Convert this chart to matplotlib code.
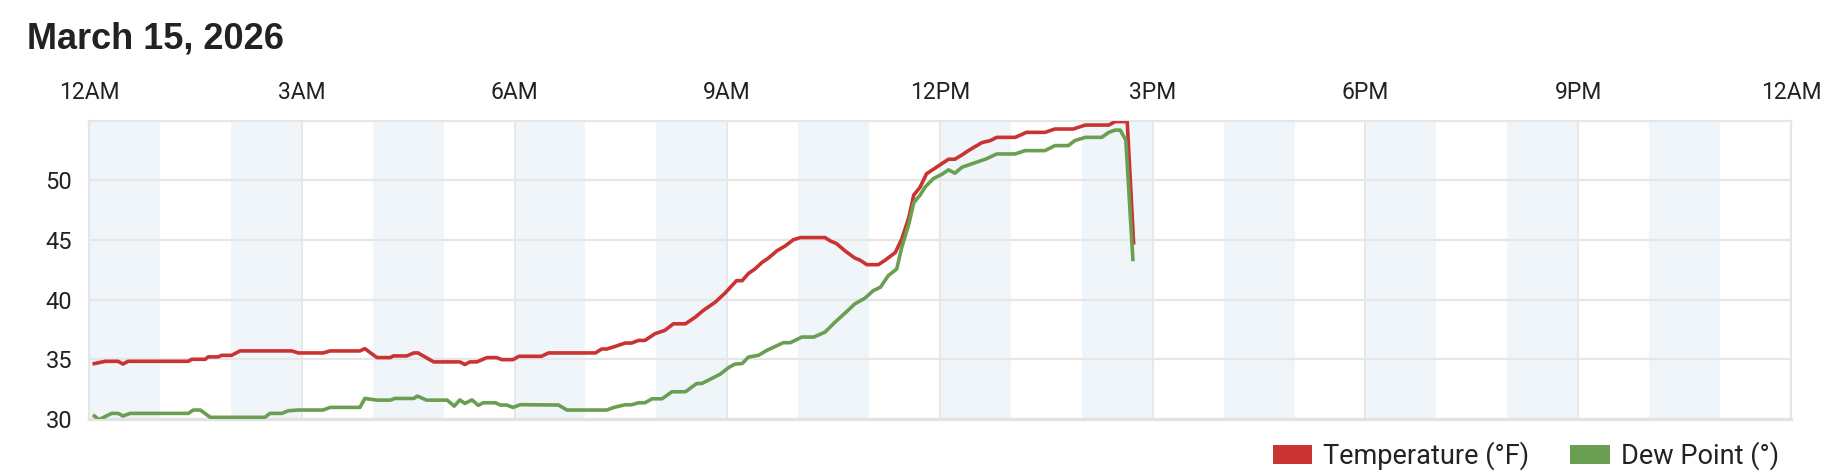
import matplotlib.pyplot as plt
from matplotlib.patches import Patch

# hours since midnight and readings
temp_hours = [0.075, 0.23, 0.41, 0.48, 0.55, 1.40, 1.45, 1.64, 1.68, 1.82, 1.87, 2.01, 2.13, 2.86,
              2.95, 3.30, 3.40, 3.82, 3.89, 4.06, 4.25, 4.29, 4.48, 4.58, 4.64, 4.86, 5.23, 5.30,
              5.37, 5.47, 5.61, 5.75, 5.82, 5.98, 6.06, 6.38, 6.48, 7.14, 7.23, 7.30, 7.42, 7.56,
              7.65, 7.75, 7.84, 7.98, 8.12, 8.24, 8.41, 8.55, 8.66, 8.83, 8.97, 9.13, 9.21, 9.30,
              9.39, 9.49, 9.58, 9.70, 9.82, 9.93, 10.03, 10.38, 10.45, 10.54, 10.66, 10.80, 10.87,
              10.97, 11.13, 11.23, 11.37, 11.46, 11.56, 11.63, 11.72, 11.81, 11.93, 12.12, 12.21,
              12.31, 12.40, 12.59, 12.71, 12.80, 13.06, 13.22, 13.48, 13.62, 13.88, 14.05, 14.38,
              14.47, 14.64, 14.73]
temp_f = [34.64, 34.83, 34.83, 34.6, 34.83, 34.83, 35.0, 35.0, 35.2, 35.2, 35.33, 35.33, 35.7, 35.7,
          35.53, 35.53, 35.7, 35.7, 35.89, 35.14, 35.14, 35.28, 35.28, 35.53, 35.53, 34.78, 34.78, 34.56,
          34.78, 34.78, 35.14, 35.14, 34.97, 34.97, 35.25, 35.25, 35.53, 35.53, 35.86, 35.86, 36.08, 36.36,
          36.36, 36.58, 36.58, 37.14, 37.42, 37.97, 37.97, 38.53, 39.08, 39.78, 40.55, 41.58, 41.58, 42.19,
          42.56, 43.11, 43.47, 44.08, 44.5, 45.0, 45.19, 45.19, 44.92, 44.69, 44.08, 43.47, 43.31,
          42.92, 42.92, 43.31, 43.94, 45.06, 46.86, 48.75, 49.42, 50.53, 51.0, 51.75, 51.75,
          52.11, 52.47, 53.14, 53.31, 53.58, 53.58, 54.0, 54.0, 54.28, 54.28, 54.61, 54.61,
          54.9, 54.9, 44.75]

dew_hours = [0.075, 0.14, 0.32, 0.41, 0.48, 0.58, 1.40, 1.47, 1.57, 1.71, 2.48, 2.55, 2.72, 2.81,
             2.95, 3.30, 3.40, 3.82, 3.89, 4.06, 4.25, 4.31, 4.58, 4.63, 4.76, 5.05, 5.15, 5.23,
             5.30, 5.40, 5.49, 5.56, 5.73, 5.80, 5.89, 5.98, 6.08, 6.62, 6.74, 7.30, 7.40, 7.56,
             7.65, 7.75, 7.84, 7.94, 8.08, 8.22, 8.41, 8.57, 8.64, 8.78, 8.90, 9.02, 9.11, 9.21,
             9.30, 9.44, 9.56, 9.79, 9.89, 10.05, 10.22, 10.38, 10.52, 10.66, 10.80, 10.94, 11.06,
             11.16, 11.27, 11.39, 11.46, 11.56, 11.63, 11.72, 11.79, 11.91, 12.03, 12.12, 12.21,
             12.31, 12.50, 12.64, 12.80, 13.06, 13.20, 13.48, 13.62, 13.81, 13.90, 14.05, 14.28,
             14.38, 14.47, 14.54, 14.62, 14.72]
dew_f = [30.25, 29.95, 30.47, 30.47, 30.25, 30.47, 30.47, 30.75, 30.75, 30.14, 30.14, 30.47, 30.47, 30.69,
         30.75, 30.75, 30.97, 30.97, 31.72, 31.58, 31.58, 31.72, 31.72, 31.92, 31.58, 31.58, 31.08, 31.6,
         31.3, 31.6, 31.14, 31.36, 31.36, 31.17, 31.17, 30.97, 31.2, 31.17, 30.75, 30.75, 30.97, 31.19,
         31.19, 31.36, 31.36, 31.69, 31.69, 32.28, 32.28, 32.97, 32.97, 33.39, 33.75, 34.31, 34.6, 34.64,
         35.19, 35.33, 35.75, 36.39, 36.39, 36.86, 36.86, 37.28, 38.11, 38.86, 39.64, 40.11, 40.75,
         41.03, 42.0, 42.56, 44.36, 46.31, 48.11, 48.75, 49.42, 50.14, 50.5, 50.86, 50.58,
         51.08, 51.47, 51.75, 52.19, 52.19, 52.47, 52.47, 52.89, 52.89, 53.31, 53.58, 53.58,
         54.0, 54.19, 54.19, 53.36, 43.36]

tick_hours = [0, 3, 6, 9, 12, 15, 18, 21, 24]
tick_labels = ['12AM', '3AM', '6AM', '9AM', '12PM', '3PM', '6PM', '9PM', '12AM']
y_ticks = [30, 35, 40, 45, 50]

red = '#c93331'
green = '#6a9e50'
grid_col = '#e6e6e6'

fig = plt.figure(figsize=(18.32, 4.74), dpi=100)
ax = fig.add_axes([89 / 1832, 55 / 474, 1702 / 1832, 298 / 474])

# light bands every other hour
for h in range(0, 24, 2):
    ax.axvspan(h, h + 1, color='#f0f5fa', lw=0, zorder=0)

for h in tick_hours[1:-1]:
    ax.axvline(h, color=grid_col, lw=1.3, zorder=1)
for v in y_ticks[1:]:
    ax.axhline(v, color=grid_col, lw=1.6, zorder=1)

ax.plot(temp_hours, temp_f, color=red, lw=2.6, zorder=3, solid_joinstyle='round')
ax.plot(dew_hours, dew_f, color=green, lw=2.6, zorder=3, solid_joinstyle='round')

ax.set_xlim(0, 24)
ax.set_ylim(30, 54.95)
ax.set_xticks(tick_hours)
ax.set_xticklabels(tick_labels)
ax.set_yticks(y_ticks)
ax.xaxis.tick_top()
ax.tick_params(axis='x', length=0, pad=12, labelsize=16.5, labelcolor='#222222')
ax.tick_params(axis='y', length=0, pad=12, labelsize=17, labelcolor='#222222')
for lab in ax.get_xticklabels() + ax.get_yticklabels():
    lab.set_fontfamily('Roboto')

for side in ['left', 'right', 'top']:
    ax.spines[side].set_color(grid_col)
    ax.spines[side].set_linewidth(1.6)
ax.spines['bottom'].set_color('#e3e3e3')
ax.spines['bottom'].set_linewidth(2.4)

fig.text(27 / 1832, 1 - 49 / 474, 'March 15, 2026', fontsize=26, fontweight='bold',
         family='Liberation Sans', color='#222222', va='baseline', ha='left')

handles = [Patch(facecolor=red, edgecolor='none', label='Temperature (°F)'),
           Patch(facecolor=green, edgecolor='none', label='Dew Point (°)')]
fig.legend(handles=handles, loc='center right', bbox_to_anchor=(1779 / 1832, 1 - 456 / 474),
           ncol=2, frameon=False, borderpad=0, borderaxespad=0,
           handlelength=1.45, handleheight=0.74, handletextpad=0.42, columnspacing=1.5,
           prop={'family': 'Roboto', 'size': 19.5}, labelcolor='#222222')

fig.savefig('out.png', dpi=100)
